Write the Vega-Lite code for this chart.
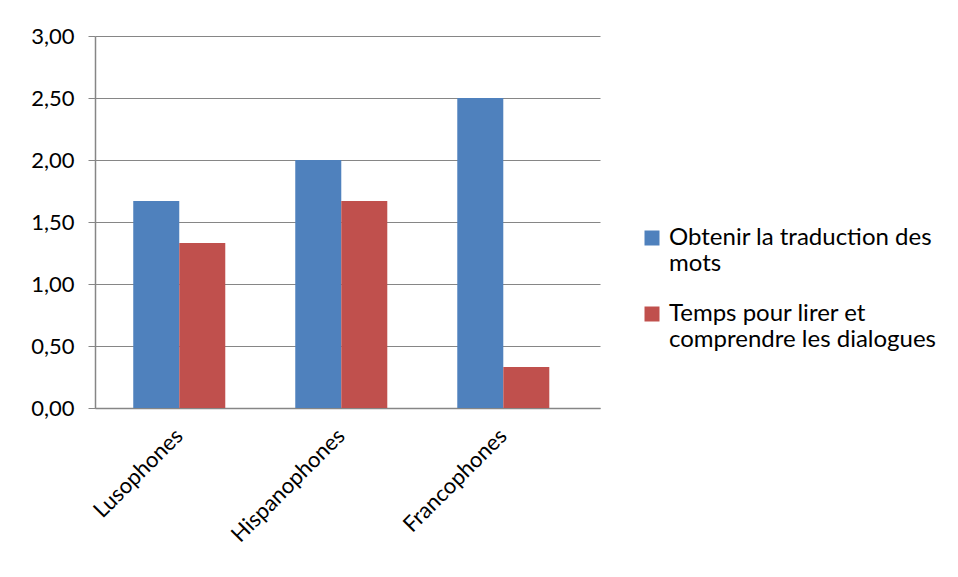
{
  "$schema": "https://vega.github.io/schema/vega-lite/v6.json",
  "autosize": "none",
  "padding": {"left": 95, "top": 36, "right": 358, "bottom": 169},
  "width": 505,
  "height": 372,
  "config": {
    "locale": {"number": {"decimal": ",", "thousands": " ", "grouping": [3], "currency": ["", " €"]}},
    "font": "Lato",
    "view": {"stroke": null},
    "axis": {"labelFont": "Lato", "labelColor": "#000000", "labelFontSize": 22, "domainColor": "#868686", "tickColor": "#868686", "gridColor": "#868686", "titleFont": "Lato"}
  },
  "data": {
    "values": [
      {"groupe": "Lusophones", "serie": "Obtenir la traduction des mots", "valeur": 1.67},
      {"groupe": "Lusophones", "serie": "Temps pour lirer et comprendre les dialogues", "valeur": 1.33},
      {"groupe": "Hispanophones", "serie": "Obtenir la traduction des mots", "valeur": 2.0},
      {"groupe": "Hispanophones", "serie": "Temps pour lirer et comprendre les dialogues", "valeur": 1.67},
      {"groupe": "Francophones", "serie": "Obtenir la traduction des mots", "valeur": 2.5},
      {"groupe": "Francophones", "serie": "Temps pour lirer et comprendre les dialogues", "valeur": 0.33}
    ]
  },
  "mark": {"type": "bar"},
  "encoding": {
    "x": {
      "field": "groupe",
      "type": "nominal",
      "sort": ["Lusophones", "Hispanophones", "Francophones"],
      "scale": {"paddingInner": 0.432, "paddingOuter": 0.2745, "align": 0.43},
      "axis": {
        "title": null,
        "labelAngle": -45,
        "labelAlign": "right",
        "labelBaseline": "middle",
        "labelPadding": 24,
        "ticks": false,
        "domainWidth": 1.5
      }
    },
    "xOffset": {"field": "serie", "type": "nominal", "scale": {"paddingInner": 0, "paddingOuter": 0}},
    "y": {
      "field": "valeur",
      "type": "quantitative",
      "scale": {"domain": [0, 3], "nice": false},
      "axis": {
        "title": null,
        "values": [0, 0.5, 1, 1.5, 2, 2.5, 3],
        "format": ".2f",
        "tickSize": 7,
        "labelPadding": 14,
        "grid": true,
        "gridWidth": 1.2,
        "domainWidth": 1.5
      }
    },
    "color": {
      "field": "serie",
      "type": "nominal",
      "scale": {"domain": ["Obtenir la traduction des mots", "Temps pour lirer et comprendre les dialogues"], "range": ["#4F81BD", "#C0504D"]},
      "legend": {
        "title": null,
        "orient": "none",
        "legendX": 545,
        "legendY": 190,
        "symbolType": "square",
        "symbolSize": 225,
        "symbolStrokeWidth": 0,
        "labelFont": "Lato",
        "labelFontSize": 24,
        "labelColor": "#000000",
        "labelLimit": 400,
        "rowPadding": 26,
        "labelOffset": 5,
        "labelExpr": "datum.label == 'Obtenir la traduction des mots' ? ['Obtenir la traduction des', 'mots'] : ['Temps pour lirer et', 'comprendre les dialogues']",
        "encoding": {"labels": {"update": {"lineHeight": {"value": 31}}}}
      }
    }
  }
}
